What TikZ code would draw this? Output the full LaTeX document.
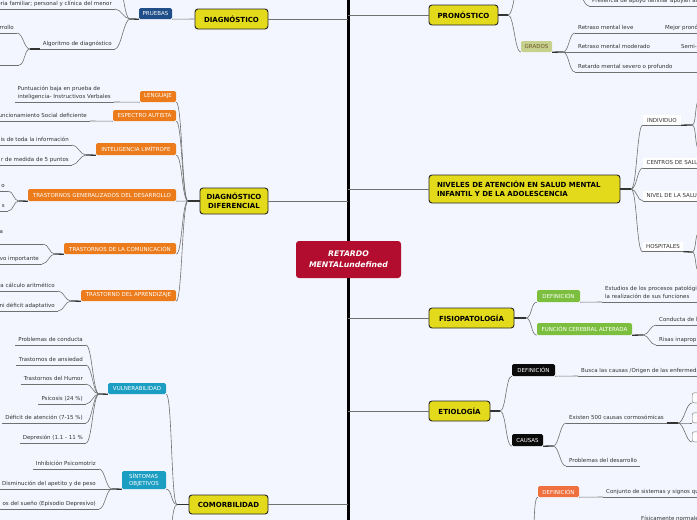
\documentclass[tikz,border=0pt]{standalone}
\usepackage{fontspec}
\setmainfont{DejaVu Sans}
\definecolor{bg}{HTML}{F3F6FE}
\definecolor{mainY}{HTML}{E4DA1C}
\definecolor{cent}{HTML}{B20D2E}
\definecolor{pblue}{HTML}{1F4E88}
\definecolor{orng}{HTML}{EC7B1B}
\definecolor{tealc}{HTML}{1C9EC2}
\definecolor{olivebg}{HTML}{C7D08D}
\definecolor{olivetx}{HTML}{6B5628}
\definecolor{grn}{HTML}{7CBF3F}
\definecolor{blk}{HTML}{0A0A0A}
\definecolor{redor}{HTML}{EF6F3E}
\definecolor{linec}{HTML}{707070}
\definecolor{txt}{HTML}{333333}
\newcommand\fleaf{\fontsize{5.5}{8}\selectfont}
\newcommand\fsub{\fontsize{5.5}{7.3}\selectfont}
\newcommand\fmain{\fontsize{7}{8.5}\selectfont\bfseries}
\newcommand\fcent{\fontsize{7.7}{11}\selectfont\bfseries\itshape}
\newcommand\mmL[2]{\draw[conn] (#1) .. controls +(-6,0) and +(6,0) .. (#2);}
\newcommand\mmR[2]{\draw[conn] (#1) .. controls +(6,0) and +(-6,0) .. (#2);}
\tikzset{
  conn/.style={draw=linec, line width=0.6pt},
  stub/.style={draw=black!80, line width=1.3pt},
  spoke/.style={draw=linec, line width=0.8pt},
  mainbox/.style={draw=black!85, line width=0.9pt, fill=mainY, rounded corners=3pt, font=\fmain, text=black, inner sep=2pt, align=center},
  centbox/.style={fill=cent, rounded corners=3pt, font=\fcent, text=white, align=center, minimum width=105pt, minimum height=37pt},
  subbox/.style={rounded corners=1.5pt, font=\fsub, text=white, inner sep=1.5pt, minimum height=11pt},
  wbox/.style={fill=white, font=\fsub, text=txt, inner xsep=3.5pt, inner ysep=1.5pt, minimum height=10pt, append after command={(\tikzlastnode.south west) edge[conn] (\tikzlastnode.south east)}},
  cbox/.style={draw=linec, fill=white, rounded corners=2pt, minimum width=20pt, minimum height=10pt, inner sep=0pt, anchor=south west},
  leafL/.style={font=\fleaf, text=txt, inner xsep=3pt, inner ysep=2.5pt, text depth=1.3pt, anchor=south east, append after command={(\tikzlastnode.south west) edge[conn] (\tikzlastnode.south east)}},
  leafR/.style={leafL, anchor=south west},
}
\begin{document}
\begin{tikzpicture}[x=1pt,y=-1pt]
\useasboundingbox (0,0) rectangle (697,520);
\clip (0,0) rectangle (697,520);
\fill[bg] (0,0) rectangle (697,520);
\coordinate (spine) at (348,0);
\draw[line width=3pt] (348,-2) -- (348,522);

% central
\node[centbox] (c) at (348.5,259.5) {RETARDO\\MENTALundefined};

% main nodes
\node[mainbox, minimum width=73pt, minimum height=20pt] (diag) at (231.5,19) {DIAGNÓSTICO};
\node[mainbox, minimum width=68pt, minimum height=26pt] (dd) at (234,201) {DIAGNÓSTICO\\DIFERENCIAL};
\node[mainbox, minimum width=79pt, minimum height=19pt] (como) at (228.5,504.5) {COMORBILIDAD};
\node[mainbox, minimum width=69pt, minimum height=20pt] (pron) at (463.5,15) {PRONÓSTICO};
\node[mainbox, align=left, text width=175pt, inner xsep=8pt, minimum height=28pt] (niv) at (524.5,189) {NIVELES DE ATENCIÓN EN SALUD MENTAL\\INFANTIL Y DE LA ADOLESCENCIA};
\node[mainbox, minimum width=85pt, minimum height=20pt] (fisio) at (471.5,318) {FISIOPATOLOGÍA};
\node[mainbox, minimum width=61pt, minimum height=20pt] (etio) at (459.5,411) {ETIOLOGÍA};

\foreach \m in {diag,dd,como} \draw[spoke] (\m.east) -- (\m.east -| spine);
\foreach \m in {pron,niv,fisio,etio} \draw[spoke] (\m.west) -- (\m.west -| spine);

% ---------- DIAGNOSTICO
\node[subbox, fill=pblue, minimum width=33pt] (pru) at (155.5,13.5) {PRUEBAS};
\draw[conn] (diag.west) -- (pru.south east);
\coordinate (pruJ) at (130,19);
\draw[stub] (pru.south west) -- (pruJ);
\node[leafL] (hist) at (115,9) {oria familiar; personal y clínica del menor};
\node[leafL] (alg) at (115,49) {Algoritmo de diagnóstico};
\coordinate (pruUp) at (118,-14);
\mmL{pruJ}{hist.south east}
\mmL{pruJ}{alg.south east}
\mmL{pruJ}{pruUp}
\coordinate (algJ) at (30,49);
\draw[stub] (alg.south west) -- (algJ);
\node[leafL] (rrollo) at (17,33) {rrollo};
\mmL{algJ}{rrollo.south east}
\coordinate (algDown) at (19,65);
\coordinate (algDownEnd) at (-5,65);
\mmL{algJ}{algDown}
\draw[conn] (algDown) -- (algDownEnd);

% ---------- DIAGNOSTICO DIFERENCIAL
\coordinate (ddJ) at (188,201);
\draw[stub] (dd.west) -- (ddJ);
\node[subbox, fill=orng, minimum width=36pt] (len) at (158,96.5) {LENGUAJE};
\node[subbox, fill=orng, minimum width=63pt] (esp) at (144.5,115.5) {ESPECTRO AUTISTA};
\node[subbox, fill=orng, minimum width=80pt, minimum height=12pt] (lim) at (136,149) {INTELIGENCIA LIMÍTROFE};
\node[subbox, fill=orng, minimum width=148pt, minimum height=12pt] (tgd) at (102,195) {TRASTORNOS GENERALIZADOS DEL DESARROLLO};
\node[subbox, fill=orng, minimum width=112pt] (tcom) at (120,248.5) {TRASTORNOS DE LA COMUNICACIÓN};
\node[subbox, fill=orng, minimum width=95pt] (tapr) at (128.5,295.5) {TRASTORNO DEL APRENDIZAJE};
\foreach \n in {len,esp,lim,tgd,tcom,tapr} {\mmL{ddJ}{\n.south east}}

\node[leafL, align=left] (lenL) at (114,102) {Puntuación baja en prueba de\\inteligencia- Instructivos Verbales};
\draw[conn] (len.south west) -- (lenL.south east);
\node[leafL] (espL) at (90,121) {uncionamiento Social deficiente};
\draw[conn] (esp.south west) -- (espL.south east);

\coordinate (limJ) at (86,155);
\draw[stub] (lim.south west) -- (limJ);
\node[leafL] (lim1) at (72,145) {is de toda la información};
\node[leafL] (lim2) at (72,165) {r de medida de 5 puntos};
\mmL{limJ}{lim1.south east}
\mmL{limJ}{lim2.south east}

\coordinate (tgdJ) at (19,201);
\draw[stub] (tgd.south west) -- (tgdJ);
\node[leafL] (tgd1) at (8,191) {o};
\node[leafL] (tgd2) at (8,211) {s};
\mmL{tgdJ}{tgd1.south east}
\mmL{tgdJ}{tgd2.south east}

\coordinate (tcomJ) at (55,254);
\draw[stub] (tcom.south west) -- (tcomJ);
\coordinate (tc1e) at (43,244);
\coordinate (tc1w) at (-3,244);
\mmL{tcomJ}{tc1e}
\draw[conn] (tc1e) -- (tc1w);
\node[font=\fleaf, text=txt, anchor=west, inner sep=0pt] (tc1) at (-0.5,232) {a};
\node[leafL] (tc2) at (42,264) {vo importante};
\mmL{tcomJ}{tc2.south east}

\coordinate (taprJ) at (71,301);
\draw[stub] (tapr.south west) -- (taprJ);
\node[leafL] (ta1) at (58,291) {ra cálculo aritmético};
\node[leafL] (ta2) at (58,311) {ni déficit adaptativo};
\mmL{taprJ}{ta1.south east}
\mmL{taprJ}{ta2.south east}

% ---------- COMORBILIDAD
\coordinate (comoJ) at (177,504.5);
\draw[stub] (como.west) -- (comoJ);
\node[subbox, fill=tealc, minimum width=58pt] (vul) at (137,388.5) {VULNERABILIDAD};
\node[subbox, fill=tealc, minimum width=44pt, minimum height=18pt, align=left] (sin) at (144,480) {SÍNTOMAS\\OBJETIVOS};
\coordinate (comoDown) at (166,548);
\mmL{comoJ}{vul.south east}
\mmL{comoJ}{sin.south east}
\mmL{comoJ}{comoDown}

\coordinate (vulJ) at (99,394);
\draw[stub] (vul.south west) -- (vulJ);
\node[leafL] (v1) at (86,345) {Problemas de conducta};
\node[leafL] (v2) at (86,365) {Trastornos de ansiedad};
\node[leafL] (v3) at (86,384) {Trastornos del Humor};
\node[leafL] (v4) at (86,404) {Psicosis (24 \%)};
\node[leafL] (v5) at (86,423) {Déficit de atención (7-15 \%)};
\node[leafL] (v6) at (86,443) {Depresión (1.1 - 11 \%};
\foreach \n in {v1,v2,v3,v4,v5,v6} {\mmL{vulJ}{\n.south east}}

\coordinate (sinJ) at (112,489);
\draw[stub] (sin.south west) -- (sinJ);
\node[leafL] (s1) at (99,469) {Inhibición Psicomotriz};
\node[leafL] (s2) at (99,489) {Disminución del apetito y de peso};
\node[leafL] (s3) at (99,509) {os del sueño (Episodio Depresivo)};
\foreach \n in {s1,s2,s3} {\mmL{sinJ}{\n.south east}}

% ---------- PRONOSTICO
\coordinate (pronJ) at (508,15);
\draw[stub] (pron.east) -- (pronJ);
\coordinate (pronUp) at (520,-16);
\mmR{pronJ}{pronUp}
\node[subbox, fill=olivebg, text=olivetx, minimum width=31pt] (gra) at (536.5,46.5) {GRADOS};
\mmR{pronJ}{gra.south west}
\coordinate (presJ) at (574,-14);
\node[leafR] (pres) at (589,6) {Presencia de apoyo familiar apoyan al};
\mmR{presJ}{pres.south west}

\coordinate (graJ) at (563,52);
\draw[stub] (gra.south east) -- (graJ);
\node[leafR] (g1) at (575,33) {Retraso mental leve};
\node[leafR] (g2) at (575,52) {Retraso mental moderado};
\node[leafR] (g3) at (575,72) {Retardo mental severo o profundo};
\foreach \n in {g1,g2,g3} {\mmR{graJ}{\n.south west}}
\node[leafR] (g1b) at (662,33) {Mejor pronóstico};
\draw[conn] (g1.south east) -- (g1b.south west);
\node[leafR, text width=30pt, align=left] (g2b) at (678,52) {Semi-};
\draw[conn] (g2.south east) -- (g2b.south west);
\coordinate (g3e) at (700,72);
\draw[conn] (g3.south east) -- (g3e);

% ---------- NIVELES
\coordinate (nivJ) at (631,189);
\draw[stub] (niv.east) -- (nivJ);
\node[wbox, minimum width=38pt] (ind) at (662,120) {INDIVIDUO};
\node[wbox, anchor=south west] (cen) at (643,168) {CENTROS DE SALUD};
\node[wbox, anchor=south west] (nsal) at (643,201) {NIVEL DE LA SALUD};
\node[wbox, minimum width=40pt] (hos) at (663,246.5) {HOSPITALES};
\foreach \n in {ind,cen,nsal,hos} {\mmR{nivJ}{\n.south west}}
\coordinate (indJ) at (692,125);
\draw[stub] (ind.south east) -- (indJ);
\coordinate (indU) at (700,100);
\coordinate (indD) at (700,150);
\draw[conn] (indJ) .. controls +(5,0) and +(-6,0) .. (indU);
\draw[conn] (indJ) .. controls +(5,0) and +(-6,0) .. (indD);
\coordinate (hosJ) at (692,252);
\draw[stub] (hos.south east) -- (hosJ);
\coordinate (hosU) at (700,232);
\coordinate (hosD) at (700,272);
\draw[conn] (hosJ) .. controls +(5,0) and +(-6,0) .. (hosU);
\draw[conn] (hosJ) .. controls +(5,0) and +(-6,0) .. (hosD);

% ---------- FISIOPATOLOGIA
\coordinate (fisJ) at (526,318);
\draw[stub] (fisio.east) -- (fisJ);
\node[subbox, fill=grn, minimum width=43pt, minimum height=12pt] (fdef) at (558.5,296) {DEFINICIÓN};
\node[subbox, fill=grn, minimum width=95pt, minimum height=12pt] (fcer) at (584.5,329) {FUNCIÓN CEREBRAL ALTERADA};
\mmR{fisJ}{fdef.south west}
\mmR{fisJ}{fcer.south west}
\node[leafR, align=left] (fdefL) at (602,302) {Estudios de los procesos patológicos\\la realización de sus funciones};
\draw[conn] (fdef.south east) -- (fdefL.south west);
\coordinate (fcerJ) at (643,335);
\draw[stub] (fcer.south east) -- (fcerJ);
\node[leafR, text width=45pt, align=left] (fc1) at (656,325) {Conducta de l};
\node[leafR, text width=45pt, align=left] (fc2) at (656,345) {Risas inaprop};
\mmR{fcerJ}{fc1.south west}
\mmR{fcerJ}{fc2.south west}

% ---------- ETIOLOGIA
\coordinate (etJ) at (500,411);
\draw[stub] (etio.east) -- (etJ);
\node[subbox, fill=blk, minimum width=43pt, minimum height=12pt] (edef) at (533.5,370) {DEFINICIÓN};
\node[subbox, fill=blk, minimum width=31pt, minimum height=12pt] (ecau) at (527.5,440) {CAUSAS};
\mmR{etJ}{edef.south west}
\mmR{etJ}{ecau.south west}
\node[leafR] (edefL) at (578,376) {Busca las causas /Origen de las enfermedades};
\draw[conn] (edef.south east) -- (edefL.south west);
\coordinate (ecJ) at (553,446);
\draw[stub] (ecau.south east) -- (ecJ);
\node[leafR] (ex) at (566,423) {Existen 500 causas cormosómicas};
\node[leafR] (prob) at (566,466) {Problemas del desarrollo};
\mmR{ecJ}{ex.south west}
\mmR{ecJ}{prob.south west}
\coordinate (exJ) at (678,423);
\draw[stub] (ex.south east) -- (exJ);
\node[cbox] (cb1) at (692,403) {};
\node[cbox] (cb2) at (692,423) {};
\node[cbox] (cb3) at (692,442) {};
\foreach \n in {cb1,cb2,cb3} {\mmR{exJ}{\n.south west}}

% ---------- bottom right DEFINICION
\node[subbox, fill=redor, minimum width=41pt] (bdef) at (558.5,491.5) {DEFINICIÓN};
\coordinate (bdefP) at (530,560);
\mmR{bdefP}{bdef.south west}
\node[leafR] (bdefL) at (603,497) {Conjunto de sistemas y signos que};
\draw[conn] (bdef.south east) -- (bdefL.south west);
\node[leafR] (fnorm) at (638,524) {Físicamente normales};
\end{tikzpicture}
\end{document}
